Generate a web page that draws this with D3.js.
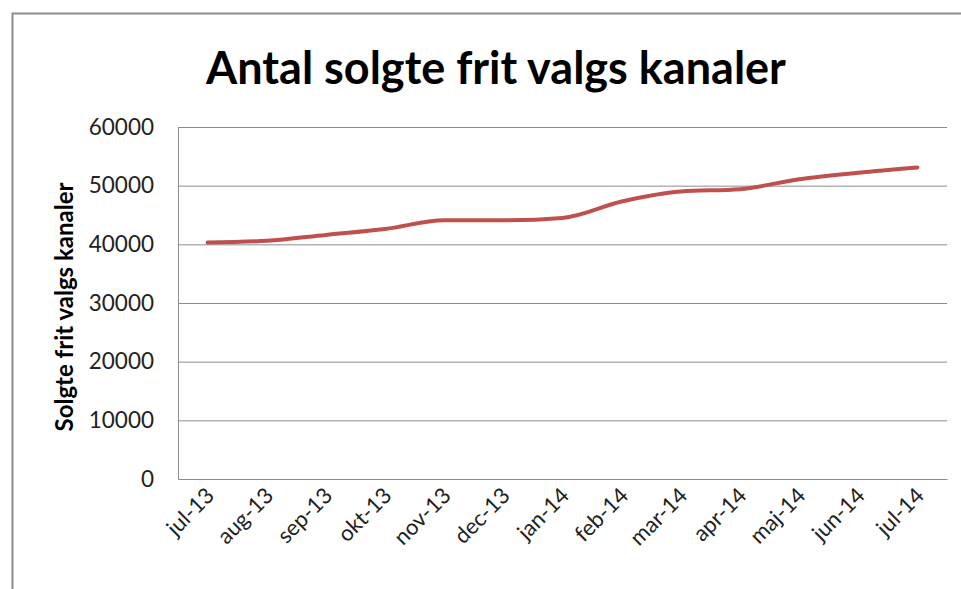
<!DOCTYPE html>
<html>
<head>
<meta charset="utf-8">
<script src="https://cdn.jsdelivr.net/npm/d3@7"></script>
<style>
  body { margin: 0; background: #fff; }
  svg { display: block; font-family: Lato, "Open Sans", sans-serif; }
</style>
</head>
<body>
<div id="chart"></div>
<script>
// Data
var months = ['jul-13', 'aug-13', 'sep-13', 'okt-13', 'nov-13', 'dec-13', 'jan-14',
              'feb-14', 'mar-14', 'apr-14', 'maj-14', 'jun-14', 'jul-14'];
var sold = [40300, 40600, 41600, 42600, 44100, 44100, 44500,
            47300, 49000, 49400, 51100, 52200, 53100];
var yTicks = [0, 10000, 20000, 30000, 40000, 50000, 60000];

var W = 961, H = 589;
var M = {top: 127, right: 14, bottom: 110, left: 178};
var iw = W - M.left - M.right, ih = H - M.top - M.bottom;

var svg = d3.select('#chart').append('svg')
    .attr('width', W)
    .attr('height', H);

// outer chart frame (only top and left edges visible in the crop)
svg.append('path')
    .attr('d', 'M12.5,' + H + 'V13.5H' + W)
    .attr('fill', 'none')
    .attr('stroke', '#8c8c8c')
    .attr('stroke-width', 2);

svg.append('text')
    .attr('x', 496)
    .attr('y', 84)
    .attr('text-anchor', 'middle')
    .attr('font-size', '45px')
    .attr('font-weight', 'bold')
    .attr('fill', '#000')
    .text('Antal solgte frit valgs kanaler');

var g = svg.append('g').attr('transform', 'translate(' + M.left + ',' + M.top + ')');

var x = d3.scaleBand().domain(months).range([0, iw]);
var y = d3.scaleLinear().domain([0, 60000]).range([ih, 0]);

// Grid
g.append('g').attr('class', 'grid')
    .call(d3.axisLeft(y).tickValues(yTicks.slice(1)).tickSize(-iw).tickFormat(''))
    .call(function(s) { s.select('.domain').remove(); });
g.selectAll('.grid line').style('stroke', '#8c8c8c').style('stroke-width', 1);

// Y axis
var ya = g.append('g')
    .call(d3.axisLeft(y).tickValues(yTicks).tickSize(0).tickPadding(24).tickFormat(d3.format('d')));
ya.select('.domain').style('stroke', '#8c8c8c');
ya.selectAll('text')
    .style('font-family', 'Lato, "Open Sans", sans-serif')
    .style('font-size', '22.5px')
    .style('fill', '#222');

// X axis
var xa = g.append('g')
    .attr('transform', 'translate(0,' + ih + ')')
    .call(d3.axisBottom(x).tickSize(0).tickFormat(function(d) { return d; }));
xa.select('.domain').style('stroke', '#8c8c8c');
xa.selectAll('text')
    .style('font-family', 'Lato, "Open Sans", sans-serif')
    .style('font-size', '22px')
    .style('fill', '#222')
    .attr('text-anchor', 'end')
    .attr('dy', null)
    .attr('y', 0)
    .attr('transform', 'translate(8,18) rotate(-45)');

// Y-axis label
g.append('text')
    .attr('transform', 'rotate(-90)')
    .attr('x', -(307 - M.top))
    .attr('y', -105)
    .attr('text-anchor', 'middle')
    .attr('font-size', '24px')
    .attr('font-weight', 'bold')
    .attr('fill', '#000')
    .text('Solgte frit valgs kanaler');

// Line
var line = d3.line()
    .x(function(d, i) { return x(months[i]) + x.bandwidth() / 2; })
    .y(function(d) { return y(d); })
    .curve(d3.curveMonotoneX);

g.append('path')
    .datum(sold)
    .attr('fill', 'none')
    .attr('stroke', '#c0504d')
    .attr('stroke-width', 4)
    .attr('stroke-linecap', 'round')
    .attr('d', line);
</script>
</body>
</html>
